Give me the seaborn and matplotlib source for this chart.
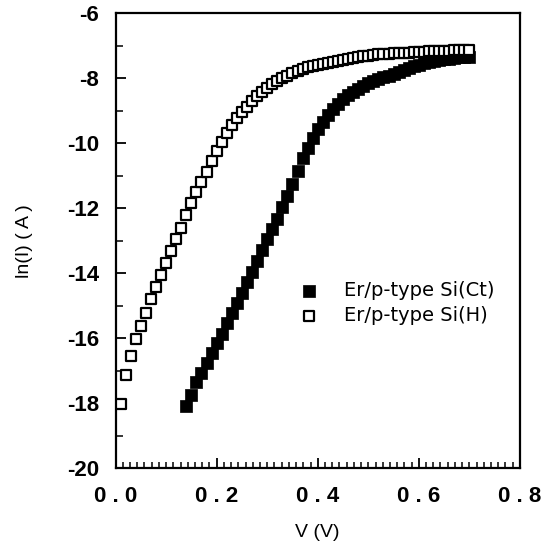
import numpy as np
import pandas as pd
import matplotlib
matplotlib.use("Agg")
import matplotlib.pyplot as plt
from matplotlib.ticker import MultipleLocator, FixedLocator
import seaborn as sns

# ---------------- data ----------------
v_ct = [0.14, 0.15, 0.16, 0.17, 0.18, 0.19, 0.20, 0.21, 0.22, 0.23,
        0.24, 0.25, 0.26, 0.27, 0.28, 0.29, 0.30, 0.31, 0.32, 0.33,
        0.34, 0.35, 0.36, 0.37, 0.38, 0.39, 0.40, 0.41, 0.42, 0.43,
        0.44, 0.45, 0.46, 0.47, 0.48, 0.49, 0.50, 0.51, 0.52, 0.53,
        0.54, 0.55, 0.56, 0.57, 0.58, 0.59, 0.60, 0.61, 0.62, 0.63,
        0.64, 0.65, 0.66, 0.67, 0.68, 0.69, 0.70]
ln_ct = [-18.10, -17.75, -17.35, -17.08, -16.78, -16.47, -16.15, -15.86, -15.55, -15.24,
         -14.93, -14.62, -14.28, -13.96, -13.62, -13.28, -12.95, -12.64, -12.32, -11.98,
         -11.62, -11.25, -10.85, -10.45, -10.14, -9.83, -9.56, -9.34, -9.13, -8.94,
         -8.78, -8.65, -8.53, -8.42, -8.33, -8.24, -8.16, -8.09, -8.03, -7.97,
         -7.92, -7.86, -7.80, -7.74, -7.68, -7.63, -7.58, -7.54, -7.51, -7.48,
         -7.45, -7.42, -7.40, -7.38, -7.36, -7.35, -7.34]

v_h = [0.01, 0.02, 0.03, 0.04, 0.05, 0.06, 0.07, 0.08, 0.09, 0.10,
       0.11, 0.12, 0.13, 0.14, 0.15, 0.16, 0.17, 0.18, 0.19, 0.20,
       0.21, 0.22, 0.23, 0.24, 0.25, 0.26, 0.27, 0.28, 0.29, 0.30,
       0.31, 0.32, 0.33, 0.34, 0.35, 0.36, 0.37, 0.38, 0.39, 0.40,
       0.41, 0.42, 0.43, 0.44, 0.45, 0.46, 0.47, 0.48, 0.49, 0.50,
       0.51, 0.52, 0.53, 0.54, 0.55, 0.56, 0.57, 0.58, 0.59, 0.60,
       0.61, 0.62, 0.63, 0.64, 0.65, 0.66, 0.67, 0.68, 0.69, 0.70]
ln_h = [-18.04, -17.15, -16.55, -16.02, -15.62, -15.22, -14.80, -14.42, -14.05, -13.68,
        -13.32, -12.95, -12.60, -12.22, -11.85, -11.50, -11.20, -10.88, -10.56, -10.25,
        -9.97, -9.70, -9.45, -9.22, -9.04, -8.88, -8.70, -8.54, -8.42, -8.30,
        -8.18, -8.08, -8.00, -7.92, -7.85, -7.78, -7.72, -7.67, -7.62, -7.59,
        -7.56, -7.53, -7.49, -7.46, -7.43, -7.40, -7.37, -7.35, -7.33, -7.31,
        -7.29, -7.27, -7.26, -7.25, -7.24, -7.23, -7.22, -7.21, -7.20, -7.19,
        -7.18, -7.17, -7.17, -7.16, -7.15, -7.15, -7.14, -7.14, -7.13, -7.12]

series_names = ["Er/p-type Si(Ct)", "Er/p-type Si(H)"]
x_ticks = [0.0, 0.2, 0.4, 0.6, 0.8]
x_tick_labels = ["0 . 0", "0 . 2", "0 . 4", "0 . 6", "0 . 8"]
y_ticks = [-20, -18, -16, -14, -12, -10, -8, -6]
y_tick_labels = ["-20", "-18", "-16", "-14", "-12", "-10", "-8", "-6"]
x_label = "V (V)"
y_label = "ln(I) ( A )"

# ---------------- plot ----------------
sns.set_theme(style="white")
plt.rcParams["font.family"] = ["Liberation Sans", "DejaVu Sans"]
plt.rcParams["text.color"] = "black"
plt.rcParams["axes.labelcolor"] = "black"
plt.rcParams["xtick.color"] = "black"
plt.rcParams["ytick.color"] = "black"

df_ct = pd.DataFrame({"V": v_ct, "lnI": ln_ct})
df_h = pd.DataFrame({"V": v_h, "lnI": ln_h})

fig = plt.figure(figsize=(5.45, 5.5), dpi=100)
ax = fig.add_axes([0.212, 0.149, 0.742, 0.827])

sns.scatterplot(data=df_ct, x="V", y="lnI", ax=ax, marker="s", s=80,
                color="black", edgecolor="black", linewidth=0.5,
                label=series_names[0], zorder=3)
sns.scatterplot(data=df_h, x="V", y="lnI", ax=ax, marker="s", s=58,
                facecolor="white", edgecolor="black", linewidth=1.6,
                label=series_names[1], zorder=4)

ax.set_xlim(0.0, 0.8)
ax.set_ylim(-20, -6)
ax.xaxis.set_major_locator(FixedLocator(x_ticks))
ax.set_xticklabels(x_tick_labels, fontweight="bold")
ax.xaxis.set_minor_locator(MultipleLocator(0.2 / 14))
ax.yaxis.set_major_locator(FixedLocator(y_ticks))
ax.set_yticklabels(y_tick_labels, fontweight="bold")
ax.yaxis.set_minor_locator(MultipleLocator(1))

ax.tick_params(axis="both", which="both", direction="in", top=False, right=False,
               colors="black", labelcolor="black")
ax.tick_params(axis="x", which="major", length=7, width=1.3, labelsize=16, pad=13)
ax.tick_params(axis="x", which="minor", length=4, width=1.1)
ax.tick_params(axis="y", which="major", length=7, width=1.3, labelsize=16, pad=12)
ax.tick_params(axis="y", which="minor", length=5, width=1.1)
ax.tick_params(axis="x", which="both", bottom=True)
ax.tick_params(axis="y", which="both", left=True)

for sp in ax.spines.values():
    sp.set_color("black")
    sp.set_linewidth(1.6)

ax.set_xlabel(x_label, fontsize=14, labelpad=12, color="black")
ax.set_ylabel(y_label, fontsize=14, labelpad=24, color="black")

leg = ax.legend(loc="upper left", bbox_to_anchor=(0.411, 0.428), frameon=False,
                handletextpad=0.8, labelspacing=0.3, markerscale=0.9,
                borderaxespad=0, labelcolor="black",
                prop={"family": "DejaVu Sans", "size": 14})

fig.savefig("out.png", dpi=100, facecolor="white")
